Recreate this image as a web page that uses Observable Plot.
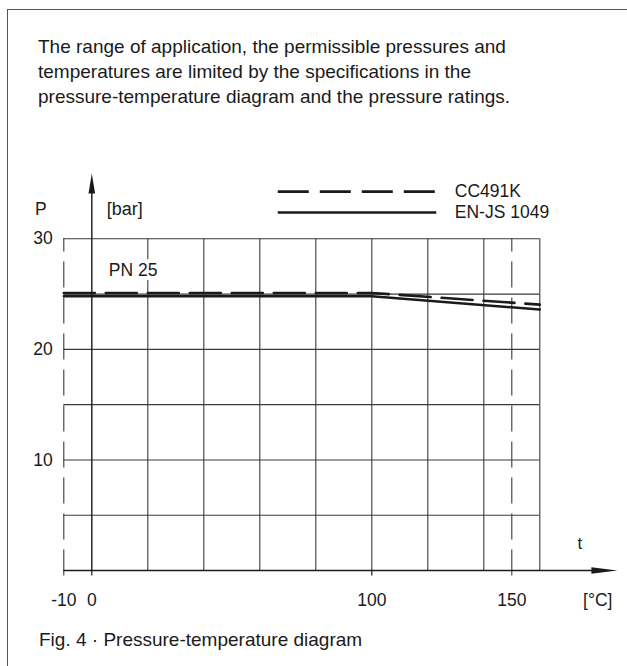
<!DOCTYPE html>
<html>
<head>
<meta charset="utf-8">
<script src="https://cdn.jsdelivr.net/npm/d3@7"></script>
<script src="https://cdn.jsdelivr.net/npm/@observablehq/plot@0.6"></script>
<style>
  html, body { margin: 0; padding: 0; background: #fff; }
  body { width: 627px; height: 666px; position: relative; overflow: hidden;
         font-family: "Liberation Sans", Arial, sans-serif; color: #1a1a1a; }
  #frame { position: absolute; left: 7px; top: 9px; width: 640px; height: 700px;
           border-left: 1.5px solid #555; border-top: 1.5px solid #555; }
  #intro { position: absolute; left: 38px; top: 34px; margin: 0; font-size: 19px; line-height: 25px; white-space: nowrap; }
  #caption { position: absolute; left: 39px; top: 629px; margin: 0; font-size: 19px; white-space: nowrap; }
  #chart { position: absolute; left: 0; top: 150px; }
</style>
</head>
<body>
<div id="frame"></div>
<p id="intro">The range of application, the permissible pressures and<br>temperatures are limited by the specifications in the<br>pressure-temperature diagram and the pressure ratings.</p>
<div id="chart"></div>
<p id="caption">Fig. 4 · Pressure-temperature diagram</p>
<script>
// ---- data ----
const temperatures = [-10, 100, 160];          // °C
const cc491k = [25.1, 25.1, 24.05];            // bar (dashed)
const enjs1049 = [24.8, 24.8, 23.6];           // bar (solid)
const seriesNames = ["CC491K", "EN-JS 1049"];
const xTickLabels = [-10, 0, 100, 150];
const yTickLabels = [10, 20, 30];
const gridX = [20, 40, 60, 80, 100, 120, 140, 160];
const gridY = [5, 10, 15, 20, 25, 30];

const ccData = temperatures.map((t, i) => ({t, p: cc491k[i]}));
const enData = temperatures.map((t, i) => ({t, p: enjs1049[i]}));

const arrowUp = {draw(ctx) { ctx.moveTo(0, 0); ctx.lineTo(3.3, 20); ctx.lineTo(-3.3, 20); ctx.closePath(); }};
const arrowRight = {draw(ctx) { ctx.moveTo(0, 0); ctx.lineTo(-26, 3.3); ctx.lineTo(-26, -3.3); ctx.closePath(); }};

const font = "Liberation Sans, Arial, sans-serif";
const fs = 17;
const ink = "#1a1a1a";
const gridC = "#3a3a3a";

const plot = Plot.plot({
  width: 627,
  height: 516,
  marginTop: 88.3,
  marginBottom: 96,
  marginLeft: 63.3,
  marginRight: 87.7,
  x: {domain: [-10, 160], axis: null},
  y: {domain: [0, 30], axis: null},
  style: {background: "transparent", fontFamily: font, fontSize: fs + "px", color: ink, overflow: "visible"},
  marks: [
    // grid
    Plot.ruleX(gridX, {y1: 0, y2: 30, stroke: gridC, strokeWidth: 1.1}),
    Plot.ruleY(gridY, {x1: -10, x2: 160, stroke: gridC, strokeWidth: 1.1}),
    // dashed limits at -10 and 150
    Plot.ruleX([-10], {y1: -0.5, y2: 30, stroke: gridC, strokeWidth: 1.1, strokeDasharray: "26,10"}),
    Plot.ruleX([150], {y1: -0.5, y2: 30, stroke: gridC, strokeWidth: 1.1, strokeDasharray: "26,10"}),
    // tick stubs below axis
    Plot.ruleX([0, 100], {y1: -0.5, y2: 0, stroke: ink, strokeWidth: 1.2}),
    // PN 25 label with white knock-out
    Plot.text(["PN 25"], {x: 0, y: 27.1, dx: 17, text: d => d, textAnchor: "start", fontSize: 17.5, fill: ink,
      stroke: "white", strokeWidth: 8}),
    // data lines
    Plot.line(enData, {x: "t", y: "p", stroke: ink, strokeWidth: 2.5}),
    Plot.line(ccData, {x: "t", y: "p", stroke: ink, strokeWidth: 2.6, strokeDasharray: "31,11"}),
    // axes with arrows
    Plot.ruleX([0], {y1: 0, y2: 34.3, stroke: ink, strokeWidth: 1.4}),
    Plot.ruleY([0], {x1: -10, x2: 180, stroke: ink, strokeWidth: 1.4}),
    Plot.dot([0], {x: 0, y: 35.9, symbol: arrowUp, fill: ink, stroke: "none"}),
    Plot.dot([0], {x: 187.7, y: 0, symbol: arrowRight, fill: ink, stroke: "none"}),
    // tick labels
    Plot.text(yTickLabels, {x: -10, y: d => d, text: d => String(d), dx: -11, textAnchor: "end", fontSize: 17.5, fill: ink}),
    Plot.text(xTickLabels, {x: d => d, y: 0, text: d => String(d), dy: 30, fontSize: 17.5, fill: ink}),
    // axis titles
    Plot.text(["P"], {x: -10, y: 32.7, dx: -23, text: d => d, fontSize: 17.5, fill: ink}),
    Plot.text(["[bar]"], {x: 0, y: 32.7, dx: 15, text: d => d, textAnchor: "start", fontSize: 18, fill: ink}),
    Plot.text(["t"], {x: 160, y: 0, dx: 40, dy: -27, text: d => d, fontSize: 17, fill: ink}),
    Plot.text(["[°C]"], {x: 160, y: 0, dx: 58, dy: 30, text: d => d, fontSize: 17.5, fill: ink}),
    // legend
    Plot.ruleY([34.27], {x1: 66.6, x2: 123.2, stroke: ink, strokeWidth: 2.6, strokeDasharray: "31,11"}),
    Plot.ruleY([32.37], {x1: 66.6, x2: 123.2, stroke: ink, strokeWidth: 2.5}),
    Plot.text([seriesNames[0]], {x: 123.2, y: 34.27, dx: 18, text: d => d, textAnchor: "start", fontSize: 17.5, fill: ink}),
    Plot.text([seriesNames[1]], {x: 123.2, y: 32.37, dx: 18, text: d => d, textAnchor: "start", fontSize: 17.5, fill: ink})
  ]
});
document.getElementById("chart").appendChild(plot);
</script>
</body>
</html>
